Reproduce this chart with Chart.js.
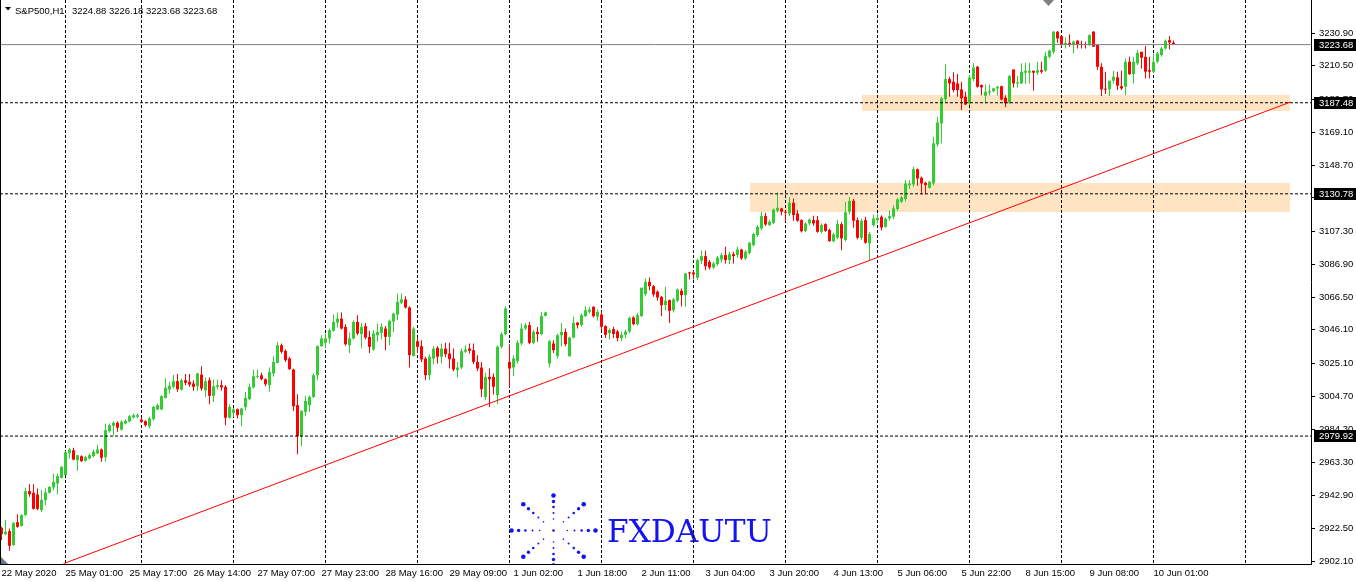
<!DOCTYPE html>
<html><head><meta charset="utf-8">
<script src="https://cdn.jsdelivr.net/npm/chart.js@4/dist/chart.umd.min.js"></script>
<style>html,body{margin:0;padding:0;background:#fff;overflow:hidden}canvas{display:block}</style>
</head><body><canvas id="c" width="1356" height="582"></canvas>
<script>
const SYMBOL = 'S&P500,H1';
const LAST_OHLC = [3224.88, 3226.18, 3223.68, 3223.68];

const OPEN = [
2922.8,2918.8,2920.7,2912.0,2926.3,2924.0,2930.7,2945.6,2944.6,2943.5,
2933.8,2940.0,2944.6,2947.9,2950.4,2953.9,2955.6,2969.3,2971.1,2964.9,
2967.4,2964.5,2966.0,2967.4,2969.1,2971.6,2966.8,2983.0,2986.3,2988.2,
2984.0,2987.7,2989.0,2991.5,2991.9,2990.2,2989.2,2986.1,2990.4,2996.5,
2996.5,3003.7,3008.9,3010.6,3014.1,3008.9,3014.7,3013.7,3012.7,3011.0,
3018.2,3008.5,3014.7,3005.0,3010.6,3011.6,3010.6,2991.3,2994.4,2996.7,
2992.9,2997.9,3002.9,3010.2,3016.8,3017.8,3015.3,3011.6,3018.9,3025.5,
3036.5,3033.0,3028.2,3021.4,2999.2,2979.8,2995.0,2999.2,3004.3,3017.8,
3035.9,3038.0,3040.7,3045.5,3050.5,3053.1,3047.9,3036.5,3040.7,3051.0,
3043.4,3048.4,3041.7,3033.8,3042.7,3044.2,3046.9,3041.7,3051.2,3055.5,
3062.9,3065.0,3060.0,3029.7,3039.0,3035.9,3028.2,3017.8,3028.2,3034.9,
3029.3,3034.4,3031.3,3028.2,3021.0,3022.6,3032.4,3034.4,3033.4,3026.1,
3022.6,3004.3,3016.8,3016.8,3005.4,3035.5,3043.4,3026.1,3022.6,3026.6,
3037.6,3046.9,3049.0,3038.0,3044.8,3043.4,3054.8,3025.1,3037.6,3029.7,
3042.7,3044.8,3029.7,3041.3,3050.6,3049.0,3054.6,3057.3,3060.4,3054.2,
3055.6,3048.4,3044.0,3046.5,3045.0,3041.0,3043.0,3045.0,3053.8,3049.6,
3054.6,3068.3,3076.0,3073.3,3069.8,3066.6,3061.4,3064.6,3058.3,3064.2,
3070.4,3067.7,3081.8,3081.8,3078.5,3089.1,3092.0,3088.4,3084.9,3087.0,
3089.9,3092.6,3089.5,3093.2,3092.6,3096.1,3090.5,3094.0,3098.8,3105.1,
3109.2,3116.9,3111.3,3112.7,3120.2,3121.7,3119.6,3118.5,3125.2,3118.5,
3114.4,3107.7,3112.3,3114.4,3114.4,3107.1,3111.9,3108.2,3101.3,3103.4,
3111.9,3102.0,3119.6,3126.4,3114.4,3103.4,3114.4,3099.9,3111.3,3114.4,
3116.5,3110.2,3115.4,3116.5,3121.3,3125.8,3127.5,3136.1,3136.6,3146.1,
3140.8,3137.6,3134.5,3137.2,3161.5,3174.6,3189.7,3202.2,3200.5,3199.5,
3195.8,3191.2,3187.0,3202.2,3209.9,3198.5,3191.8,3193.9,3194.7,3196.4,
3197.8,3190.6,3187.5,3208.2,3199.5,3199.5,3206.2,3206.2,3207.4,3206.2,
3207.8,3207.4,3216.1,3219.2,3231.7,3229.0,3223.4,3224.8,3223.4,3226.1,
3224.0,3224.0,3223.4,3231.7,3223.4,3209.9,3196.0,3195.8,3201.2,3203.3,
3197.8,3197.4,3213.0,3205.3,3212.0,3219.2,3216.1,3207.8,3206.8,3213.0,
3217.2,3221.3,3226.5,3224.88];

const HIGH = [
2923.5,2927.6,2922.4,2926.3,2931.3,2931.3,2947.7,2950.0,2950.0,2947.3,
2946.2,2947.5,2948.7,2956.6,2956.6,2961.2,2970.7,2972.6,2972.6,2968.0,
2968.0,2967.6,2969.1,2971.6,2974.3,2972.2,2987.8,2987.8,2989.2,2989.2,
2989.8,2990.2,2993.0,2994.0,2994.0,2991.5,2989.8,2991.9,2998.6,3000.2,
3005.4,3015.8,3013.7,3017.9,3018.5,3015.8,3018.5,3018.5,3014.7,3019.3,
3023.4,3016.4,3016.4,3015.1,3015.1,3014.7,3011.6,2999.8,2997.5,2997.1,
2997.5,3007.5,3012.6,3021.4,3021.4,3019.3,3015.8,3022.6,3029.7,3038.6,
3037.6,3033.8,3029.3,3021.8,3006.0,2996.0,3004.8,3005.2,3018.9,3036.5,
3042.7,3043.8,3046.9,3055.6,3056.9,3056.9,3049.6,3044.2,3052.1,3055.2,
3050.4,3050.4,3045.4,3045.9,3050.0,3050.0,3048.4,3052.5,3056.7,3068.7,
3068.7,3067.0,3060.8,3047.9,3041.3,3039.6,3029.3,3030.9,3035.9,3035.9,
3037.6,3038.0,3038.0,3034.4,3026.1,3034.4,3036.5,3037.6,3037.6,3030.3,
3026.1,3019.3,3022.0,3018.9,3036.5,3044.8,3060.8,3037.1,3030.3,3039.6,
3050.0,3050.4,3051.0,3045.9,3047.9,3057.3,3057.3,3039.6,3039.6,3043.8,
3050.4,3046.9,3041.7,3054.2,3051.0,3056.2,3060.8,3060.4,3060.8,3058.7,
3057.3,3049.0,3047.0,3048.0,3046.0,3045.0,3046.0,3054.2,3054.6,3056.7,
3072.3,3078.1,3078.7,3074.0,3070.5,3067.2,3072.9,3065.0,3066.0,3071.8,
3071.8,3081.5,3082.2,3082.8,3090.5,3095.3,3095.3,3089.5,3088.4,3092.0,
3094.0,3097.8,3094.7,3094.7,3097.8,3096.6,3096.0,3100.9,3106.5,3111.3,
3119.6,3119.0,3114.4,3121.7,3131.6,3122.1,3120.2,3128.9,3127.9,3120.6,
3115.0,3113.0,3115.4,3117.1,3116.9,3112.5,3112.5,3109.0,3106.5,3114.4,
3113.0,3125.8,3128.9,3127.5,3116.0,3115.4,3116.5,3107.0,3117.9,3118.5,
3117.5,3116.0,3120.6,3123.7,3128.3,3129.5,3139.3,3139.3,3147.6,3146.6,
3141.5,3138.3,3138.7,3166.3,3178.8,3191.2,3211.5,3203.7,3206.4,3205.3,
3200.5,3194.3,3204.7,3212.0,3210.3,3198.9,3198.9,3198.9,3196.8,3198.0,
3198.0,3192.2,3204.7,3208.2,3204.1,3212.0,3212.4,3212.4,3207.4,3213.0,
3213.0,3219.2,3220.7,3232.1,3232.1,3229.5,3228.2,3230.2,3226.1,3226.5,
3226.1,3225.5,3230.2,3232.1,3223.4,3212.0,3206.8,3201.2,3207.4,3206.8,
3207.4,3215.1,3216.1,3216.1,3220.3,3219.2,3222.8,3216.1,3218.2,3219.2,
3222.4,3226.9,3229.0,3226.18];

const LOW = [
2915.1,2918.2,2908.5,2911.6,2922.8,2923.4,2930.2,2942.1,2934.2,2933.8,
2932.7,2936.9,2944.2,2946.2,2943.5,2953.5,2955.6,2966.0,2964.9,2958.3,
2963.9,2963.9,2965.5,2966.8,2968.7,2963.9,2963.9,2982.0,2980.1,2982.6,
2983.2,2987.3,2988.6,2990.9,2990.9,2988.2,2985.7,2984.6,2989.8,2996.1,
2996.1,3003.3,3006.4,3009.6,3007.5,3008.1,3011.6,3010.6,3008.1,3008.1,
3008.1,3004.3,2999.8,3001.2,3008.9,3008.1,2986.7,2990.9,2991.9,2990.8,
2986.1,2996.0,3002.3,3009.5,3015.8,3014.7,3011.0,3007.5,3016.8,3025.1,
3031.3,3026.1,3021.0,2995.6,2968.6,2973.6,2992.3,2995.0,3003.7,3014.7,
3035.5,3034.4,3037.6,3044.9,3047.6,3046.3,3036.1,3031.7,3040.0,3042.7,
3034.4,3040.0,3031.7,3033.0,3038.6,3040.0,3033.4,3036.5,3044.8,3052.1,
3062.1,3059.4,3022.6,3029.7,3031.7,3026.1,3014.7,3014.7,3024.7,3025.1,
3025.1,3029.0,3022.0,3020.3,3016.4,3021.6,3031.7,3031.3,3024.7,3020.5,
3004.3,3002.3,2998.1,3005.8,2999.8,3034.4,3042.7,3010.2,3017.4,3025.1,
3036.5,3045.9,3037.1,3037.1,3038.6,3042.7,3054.4,3022.6,3031.7,3028.2,
3035.9,3035.9,3029.3,3040.7,3046.9,3048.0,3054.2,3056.2,3053.7,3051.7,
3045.9,3041.0,3040.0,3041.0,3039.0,3039.0,3041.0,3044.0,3049.0,3048.8,
3054.0,3067.0,3070.8,3066.6,3064.2,3054.6,3058.3,3050.4,3056.9,3063.3,
3060.8,3060.4,3077.4,3077.4,3077.0,3087.0,3083.2,3083.7,3084.0,3086.0,
3088.0,3087.4,3087.0,3087.4,3091.0,3089.5,3089.5,3093.0,3098.0,3104.0,
3108.0,3110.7,3110.7,3112.0,3119.0,3117.5,3113.4,3117.0,3114.0,3113.4,
3106.7,3107.0,3111.0,3110.9,3106.5,3106.0,3107.1,3100.9,3100.5,3102.5,
3095.7,3101.0,3118.0,3109.6,3102.5,3102.0,3099.6,3089.5,3110.2,3112.3,
3108.0,3109.6,3114.0,3115.0,3120.0,3125.0,3126.0,3133.7,3135.0,3135.8,
3130.4,3130.4,3134.1,3136.0,3160.0,3162.2,3188.0,3191.2,3194.0,3191.2,
3182.9,3186.0,3186.0,3201.0,3196.8,3192.2,3187.0,3192.0,3194.0,3192.0,
3189.1,3184.6,3186.5,3197.0,3197.0,3199.1,3199.1,3199.5,3195.0,3204.7,
3205.7,3206.8,3215.1,3218.0,3224.8,3222.0,3221.3,3222.4,3218.2,3221.3,
3221.3,3221.3,3222.8,3222.4,3207.8,3191.6,3192.9,3191.6,3199.5,3195.4,
3195.4,3192.2,3204.7,3199.5,3211.0,3208.8,3202.6,3202.6,3206.2,3212.0,
3216.1,3220.7,3220.7,3223.68];

const CLOSE = [
2918.8,2920.3,2911.6,2925.9,2923.4,2930.7,2945.6,2943.7,2934.6,2934.6,
2940.2,2944.8,2948.3,2951.4,2955.0,2960.8,2969.9,2971.6,2965.3,2968.0,
2964.3,2966.8,2968.0,2970.1,2971.6,2966.4,2983.6,2986.7,2988.2,2985.1,
2988.8,2989.4,2992.3,2992.9,2992.9,2988.8,2986.7,2990.9,2998.1,2999.2,
3004.8,3010.0,3011.2,3014.1,3009.1,3014.7,3013.1,3012.0,3010.6,3018.9,
3009.5,3014.1,3005.0,3011.0,3011.6,3010.2,2991.3,2998.1,2996.5,2992.9,
2997.1,3003.7,3010.6,3017.2,3017.4,3015.3,3012.2,3019.9,3026.1,3036.5,
3032.4,3027.2,3021.6,2998.5,2979.8,2995.6,3001.9,3004.3,3017.8,3035.9,
3040.7,3040.7,3045.9,3051.0,3053.1,3046.9,3037.1,3040.7,3051.0,3043.8,
3047.9,3041.3,3035.5,3043.8,3044.8,3047.9,3041.7,3051.7,3056.2,3063.5,
3065.0,3060.0,3030.3,3046.9,3035.5,3027.6,3017.8,3029.3,3034.4,3029.3,
3034.4,3030.9,3027.8,3021.4,3022.6,3032.8,3033.8,3033.0,3026.1,3022.0,
3009.1,3016.8,3015.3,3010.6,3035.5,3043.4,3059.4,3022.0,3028.2,3038.0,
3046.9,3049.0,3038.0,3044.8,3043.4,3054.6,3056.9,3039.2,3033.4,3042.7,
3044.8,3037.1,3041.3,3050.4,3049.0,3055.2,3058.3,3058.7,3054.6,3057.3,
3048.0,3043.0,3046.0,3043.5,3041.0,3043.0,3045.0,3053.6,3049.6,3055.2,
3072.3,3076.0,3073.3,3068.1,3066.2,3061.4,3064.2,3057.9,3065.0,3071.2,
3067.7,3081.2,3081.2,3080.6,3089.5,3092.0,3085.7,3084.9,3087.4,3091.1,
3092.6,3089.5,3093.2,3092.0,3096.1,3090.5,3094.7,3100.3,3105.7,3110.2,
3116.9,3111.7,3113.4,3121.0,3122.1,3119.6,3119.0,3125.2,3117.5,3114.0,
3107.5,3112.3,3114.8,3112.3,3107.1,3111.3,3107.7,3101.3,3105.5,3111.9,
3103.0,3119.2,3126.4,3114.0,3103.4,3114.0,3100.3,3105.7,3115.4,3115.8,
3109.8,3115.4,3116.9,3121.7,3127.3,3128.5,3137.2,3137.2,3146.1,3140.3,
3137.2,3136.2,3138.3,3162.2,3175.2,3190.2,3202.2,3199.5,3195.4,3195.4,
3190.2,3186.4,3203.2,3209.3,3197.4,3197.0,3194.3,3194.7,3196.4,3197.4,
3189.5,3187.1,3204.1,3199.5,3200.2,3206.8,3207.4,3207.4,3206.2,3207.8,
3206.8,3216.5,3219.9,3231.7,3227.5,3223.4,3224.8,3223.4,3225.5,3224.0,
3223.4,3223.4,3229.6,3222.4,3209.9,3195.8,3195.6,3201.2,3203.7,3198.1,
3196.4,3213.0,3205.3,3213.0,3218.6,3215.5,3206.8,3206.8,3213.0,3218.2,
3221.3,3226.1,3224.9,3223.68];

// time axis: one label every 16 bars, day separators at first bar of each day
const X_TICK_LABELS = ['22 May 2020','25 May 01:00','25 May 17:00','26 May 14:00','27 May 07:00',
  '27 May 23:00','28 May 16:00','29 May 09:00','1 Jun 02:00','1 Jun 18:00','2 Jun 11:00',
  '3 Jun 04:00','3 Jun 20:00','4 Jun 13:00','5 Jun 06:00','5 Jun 22:00','8 Jun 15:00',
  '9 Jun 08:00','10 Jun 01:00'];
const X_TICK_STEP = 16;
const DAY_STARTS = [16,35,58,81,104,127,150,173,196,219,242,265,288,311];

const Y_TICKS = [3230.90,3210.50,3189.70,3169.10,3148.70,3128.30,3107.30,3086.90,3066.50,
  3046.10,3025.10,3004.70,2984.30,2963.30,2942.90,2922.50,2902.10];

const H_LEVELS = [3187.48, 3130.78, 2979.92];
const BID = 3223.68;

const ZONE_FROM = [215, 187];
const ZONE_TO   = [322, 322];
const ZONE_LOW  = [3182.3, 3119.4];
const ZONE_HIGH = [3192.3, 3137.5];

const TREND_X = [15.5, 322.25];
const TREND_Y = [2900.5, 3187.9];

// ---------- view settings ----------
const Y_MIN = 2900.27, Y_MAX = 3251.45;
const X_MIN = -0.375, X_MAX = X_MIN + 1311 / 4;
const UP = '#32CD32', DN = '#FF0000';
const FONT = "'Liberation Sans', Arial, sans-serif";
const FS = 9.5;

Chart.defaults.font.family = FONT;
Chart.defaults.font.size = FS;
Chart.defaults.color = '#000';

const idx = OPEN.map((_, i) => i);
const colorOf = c => (CLOSE[c.dataIndex] >= OPEN[c.dataIndex] ? UP : DN);
const X_TICK_POS = X_TICK_LABELS.map((_, k) => k * X_TICK_STEP);

function hline(v, color, dash) {
  return { type: 'line', data: [{x: X_MIN, y: v}, {x: X_MAX, y: v}], borderColor: color,
    borderWidth: 1, borderDash: dash, pointRadius: 0, order: 0 };
}

function drawLogo(ctx) {
  const cx = 553.5, cy = 530.5;
  ctx.fillStyle = '#1414F0';
  const rays = [[1,0,42],[-1,0,42],[0,1,35],[0,-1,35],
    [0.755,0.655,40],[-0.755,0.655,40],[0.755,-0.655,40],[-0.755,-0.655,40]];
  const ts = [0.33,0.5,0.67,0.83,1.0], rs = [0.8,1.0,1.3,1.7,2.3];
  rays.forEach(r => ts.forEach((t, k) => {
    ctx.beginPath(); ctx.arc(cx + r[0]*r[2]*t, cy + r[1]*r[2]*t, rs[k], 0, Math.PI*2); ctx.fill();
  }));
  ctx.beginPath(); ctx.arc(cx, cy, 1.3, 0, Math.PI*2); ctx.fill();
  ctx.font = "30px 'DejaVu Serif'";
  const w = ctx.measureText('FXDAUTU').width;
  const fs = 30 * 165 / w;
  ctx.font = fs.toFixed(1) + "px 'DejaVu Serif'";
  ctx.textBaseline = 'alphabetic'; ctx.textAlign = 'left';
  ctx.fillText('FXDAUTU', 607, 541.5);
}

const mt4 = {
  id: 'mt4',
  beforeDraw(chart) {
    const {ctx, chartArea: a, scales: {x, y}} = chart;
    ctx.save();
    ctx.fillStyle = '#fff'; ctx.fillRect(0, 0, chart.width, chart.height);
    ctx.beginPath(); ctx.rect(a.left, a.top, a.right - a.left, a.bottom - a.top); ctx.clip();
    ctx.fillStyle = '#FFE4C4';
    ZONE_FROM.forEach((f, k) => {
      const x1 = Math.round(x.getPixelForValue(f)), x2 = Math.round(x.getPixelForValue(ZONE_TO[k]));
      const y1 = Math.round(y.getPixelForValue(ZONE_HIGH[k])), y2 = Math.round(y.getPixelForValue(ZONE_LOW[k]));
      ctx.fillRect(x1, y1, x2 - x1, y2 - y1);
    });
    drawLogo(ctx);
    ctx.restore();
  },
  afterDraw(chart) {
    const {ctx, chartArea: a, scales: {y}} = chart;
    ctx.save();
    ctx.strokeStyle = '#000'; ctx.lineWidth = 1;
    ctx.beginPath(); ctx.moveTo(0.5, 0); ctx.lineTo(0.5, a.bottom); ctx.stroke();
    ctx.fillStyle = '#808080';
    ctx.beginPath(); ctx.moveTo(1043, 0); ctx.lineTo(1054, 0); ctx.lineTo(1048.5, 6); ctx.closePath(); ctx.fill();
    ctx.fillStyle = '#6E7884';
    ctx.beginPath(); ctx.moveTo(1, a.bottom - 7); ctx.lineTo(8, a.bottom); ctx.lineTo(1, a.bottom); ctx.closePath(); ctx.fill();
    ctx.fillStyle = '#000';
    ctx.beginPath(); ctx.moveTo(5, 7); ctx.lineTo(11, 7); ctx.lineTo(8, 10.5); ctx.closePath(); ctx.fill();
    ctx.font = FS + 'px ' + FONT; ctx.textBaseline = 'alphabetic'; ctx.textAlign = 'left';
    ctx.fillText(SYMBOL, 15, 14);
    ctx.fillText(LAST_OHLC.map(v => v.toFixed(2)).join(' '), 72, 14);
    const boxes = H_LEVELS.concat([BID]);
    boxes.forEach(v => {
      const py = Math.round(y.getPixelForValue(v));
      ctx.fillStyle = '#000';
      ctx.fillRect(a.right + 3, py - 6, chart.width - a.right - 3, 12);
      ctx.fillStyle = '#fff';
      ctx.textBaseline = 'middle';
      ctx.fillText(v.toFixed(2), a.right + 8, py + 0.5);
    });
    ctx.restore();
  }
};

new Chart(document.getElementById('c'), {
  type: 'bar',
  data: {
    datasets: [
      { type: 'line', data: TREND_X.map((v, k) => ({x: v, y: TREND_Y[k]})), borderColor: '#FF0000',
        borderWidth: 1, pointRadius: 0, order: 0 },
      ...H_LEVELS.map(v => hline(v, '#000', [3, 2])),
      hline(BID, '#808080', []),
      { type: 'bar', data: idx.map(i => ({x: i, y: [LOW[i], HIGH[i]]})), backgroundColor: colorOf,
        barThickness: 1, grouped: false, inflateAmount: 0, borderWidth: 0, order: 3 },
      { type: 'bar', data: idx.map(i => ({x: i, y: [OPEN[i], CLOSE[i]]})), backgroundColor: colorOf,
        barThickness: 3, grouped: false, inflateAmount: 0, borderWidth: 0, minBarLength: 1, order: 2 }
    ]
  },
  plugins: [mt4],
  options: {
    responsive: false, animation: false, events: [],
    layout: { padding: 0 },
    plugins: { legend: { display: false }, tooltip: { enabled: false }, title: { display: false } },
    scales: {
      x: {
        type: 'linear', min: X_MIN, max: X_MAX, offset: false,
        afterBuildTicks: s => {
          const set = Array.from(new Set(X_TICK_POS.concat(DAY_STARTS))).sort((p, q) => p - q);
          s.ticks = set.map(v => ({value: v}));
        },
        afterFit: s => { s.height = 18; s.paddingLeft = 0; s.paddingRight = 0; },
        grid: {
          offset: false, drawTicks: false, lineWidth: 1,
          color: c => (c.tick && DAY_STARTS.includes(c.tick.value) ? '#000' : 'rgba(0,0,0,0)')
        },
        border: { display: true, color: '#000', width: 1, dash: [3, 2] },
        ticks: {
          autoSkip: false, maxRotation: 0, minRotation: 0, align: 'start', padding: 4,
          callback: v => { const k = X_TICK_POS.indexOf(v); return k >= 0 ? X_TICK_LABELS[k] : ''; }
        }
      },
      y: {
        type: 'linear', position: 'right', min: Y_MIN, max: Y_MAX, beginAtZero: false,
        afterBuildTicks: s => { s.ticks = Y_TICKS.map(v => ({value: v})); },
        afterFit: s => { s.width = 45; s.paddingTop = 0; s.paddingBottom = 0; },
        grid: { drawOnChartArea: false, drawTicks: true, tickLength: 4, tickColor: '#000', color: '#000' },
        border: { display: true, color: '#000', width: 1 },
        ticks: { padding: 4, callback: v => Number(v).toFixed(2) }
      }
    }
  }
});
</script>
</body></html>
